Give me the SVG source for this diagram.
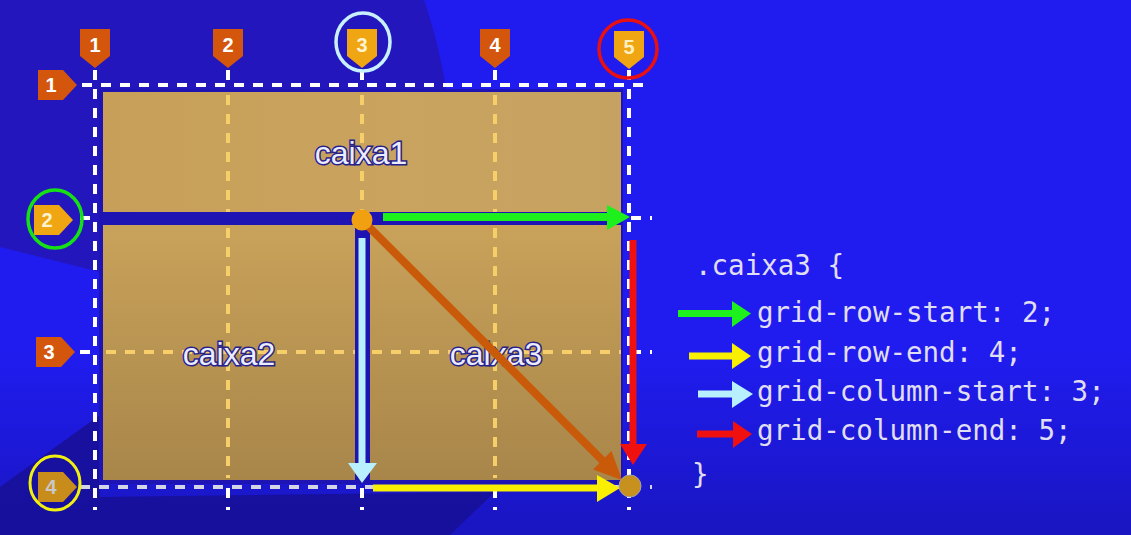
<svg xmlns="http://www.w3.org/2000/svg" width="1131" height="535" viewBox="0 0 1131 535">
<defs>
<linearGradient id="bottomShade" x1="0" y1="0" x2="0" y2="1">
<stop offset="0" stop-color="#14109a" stop-opacity="0"/>
<stop offset="1" stop-color="#14109a" stop-opacity="0.55"/>
</linearGradient>
<linearGradient id="tanLow" x1="0" y1="0" x2="0" y2="1">
<stop offset="0" stop-color="#c9a25a"/>
<stop offset="1" stop-color="#a8864a"/>
</linearGradient>
<linearGradient id="tanTop" x1="0" y1="0" x2="1" y2="0">
<stop offset="0" stop-color="#c79f58"/>
<stop offset="0.5" stop-color="#c9a35e"/>
<stop offset="1" stop-color="#c6a262"/>
</linearGradient>
</defs>
<style>
.gw{stroke:#ffffff;stroke-width:4;stroke-dasharray:10 9;fill:none}
.gg{stroke:#d4d4e4;stroke-width:4;stroke-dasharray:10 9;fill:none}
.gy{stroke:#f6cf6a;stroke-width:4;stroke-dasharray:10 9;fill:none}
.mo{fill:#d3560c}
.my{fill:#f0a512}
.mg{fill:#c88c1a}
.mt{font-family:"Liberation Sans",Arial,sans-serif;font-weight:bold;font-size:20px;fill:#ffffff;text-anchor:middle}
.lab{font-family:"Liberation Sans",Arial,sans-serif;font-size:32px;fill:#ececff;stroke:#27228a;stroke-width:3;paint-order:stroke;text-anchor:middle}
.code{font-family:"DejaVu Sans Mono","Liberation Mono",monospace;font-size:27.5px;fill:#e0def2}
</style>
<g id="background">
<rect x="0" y="0" width="1131" height="535" fill="#201cf0"/>
<path d="M0,0 H424 C448,70 462,160 445,260 L100,272 L0,247 Z" fill="#2316bc"/>
<path d="M0,487 L100,415 L100,497 L495,492 L450,535 L0,535 Z" fill="#1a10a0"/>
<rect x="0" y="350" width="1131" height="185" fill="url(#bottomShade)"/>
</g>
<g id="grid-lines">
<line class="gw" x1="82" y1="85" x2="652" y2="85"/>
<line class="gw" x1="80" y1="218" x2="652" y2="218"/>
<line class="gw" x1="80" y1="352" x2="652" y2="352"/>
<line class="gg" x1="80" y1="487" x2="652" y2="487"/>
<line class="gw" x1="95" y1="70" x2="95" y2="510"/>
<line class="gw" x1="228" y1="70" x2="228" y2="510"/>
<line class="gw" x1="362" y1="70" x2="362" y2="510"/>
<line class="gw" x1="495" y1="70" x2="495" y2="510"/>
<line class="gw" x1="629" y1="70" x2="629" y2="510"/>
</g>
<rect x="99" y="89" width="524" height="395" fill="#1e14b4"/>
<g id="caixa1">
<rect x="103" y="92" width="518" height="120" fill="url(#tanTop)"/>
<line class="gy" x1="228" y1="95" x2="228" y2="212"/>
<line class="gy" x1="362" y1="95" x2="362" y2="212"/>
<line class="gy" x1="495" y1="95" x2="495" y2="212"/>
<text class="lab" x="361" y="164">caixa1</text>
</g>
<g id="caixa2">
<rect x="103" y="225" width="252" height="255" fill="url(#tanLow)"/>
<line class="gy" x1="228" y1="228" x2="228" y2="478"/>
<line class="gy" x1="106" y1="352" x2="355" y2="352"/>
<text class="lab" x="229" y="365">caixa2</text>
</g>
<g id="caixa3">
<rect x="370" y="225" width="251" height="255" fill="url(#tanLow)"/>
<line class="gy" x1="495" y1="228" x2="495" y2="478"/>
<line class="gy" x1="372" y1="352" x2="621" y2="352"/>
<text class="lab" x="496" y="365">caixa3</text>
</g>
<g id="col-markers">
<g id="col1"><polygon class="mo" points="80,29 110,29 110,56 95,68 80,56"/><text class="mt" x="95" y="52">1</text></g>
<g id="col2"><polygon class="mo" points="213,29 243,29 243,56 228,68 213,56"/><text class="mt" x="228" y="52">2</text></g>
<g id="col3"><polygon class="my" points="347,29 377,29 377,56 362,68 347,56"/><text class="mt" x="362" y="52" style="fill:#fff4d0">3</text>
<ellipse cx="363" cy="42" rx="27" ry="29" fill="none" stroke="#c8f0ff" stroke-width="3.5"/></g>
<g id="col4"><polygon class="mo" points="480,29 510,29 510,56 495,68 480,56"/><text class="mt" x="495" y="52">4</text></g>
<g id="col5"><polygon class="my" points="614,31 644,31 644,57 629,69 614,57"/><text class="mt" x="629" y="54" style="fill:#fff0c0">5</text>
<ellipse cx="628" cy="49" rx="29" ry="29" fill="none" stroke="#e81010" stroke-width="3.5"/></g>
</g>
<g id="row-markers">
<g id="row1"><polygon class="mo" points="38,70 63,70 77,85 63,100 38,100"/><text class="mt" x="51" y="92">1</text></g>
<g id="row2"><polygon class="my" points="34,205 59,205 73,220 59,235 34,235"/><text class="mt" x="47" y="227" style="fill:#fff4d0">2</text>
<ellipse cx="55" cy="219" rx="27" ry="29" fill="none" stroke="#16e016" stroke-width="3.5"/></g>
<g id="row3"><polygon class="mo" points="36,337 61,337 75,352 61,367 36,367"/><text class="mt" x="49" y="359">3</text></g>
<g id="row4"><polygon class="mg" points="38,472 63,472 77,487 63,502 38,502"/><text class="mt" x="51" y="494" style="fill:#c8c8c8">4</text>
<ellipse cx="55" cy="483" rx="25" ry="27" fill="none" stroke="#f0f010" stroke-width="3"/></g>
</g>
<g id="connectors">
<line x1="383" y1="217" x2="610" y2="217" stroke="#1ef01e" stroke-width="8"/>
<polygon points="607,205 630,217 607,230" fill="#1ef01e"/>
<line x1="367" y1="225" x2="604" y2="462" stroke="#c85a0a" stroke-width="8"/>
<polygon points="611.4,451 622,480 593,469.4" fill="#c85a0a"/>
<line x1="362" y1="238" x2="362" y2="465" stroke="#1e14b4" stroke-width="12"/>
<line x1="362" y1="238" x2="362" y2="465" stroke="#b8f0ff" stroke-width="7"/>
<polygon points="348,463 377,463 362,483" fill="#b8f0ff"/>
<line x1="633" y1="240" x2="633" y2="446" stroke="#f01010" stroke-width="7"/>
<polygon points="620,444 647,444 633,465" fill="#f01010"/>
<line x1="373" y1="488" x2="600" y2="488" stroke="#f8f000" stroke-width="7"/>
<polygon points="597,475 620,488 597,502" fill="#f8f000"/>
<circle cx="362" cy="220" r="10.5" fill="#f0a010"/>
<circle cx="630" cy="486" r="11" fill="#c8901c" stroke="#a0a0b0" stroke-width="1"/>
<line x1="678" y1="313.5" x2="734" y2="313.5" stroke="#1ef01e" stroke-width="7"/>
<polygon points="732,301 751,313.5 732,327" fill="#1ef01e"/>
<line x1="689" y1="356" x2="734" y2="356" stroke="#f8f000" stroke-width="7"/>
<polygon points="732,343 751,356 732,369" fill="#f8f000"/>
<line x1="698" y1="394" x2="734" y2="394" stroke="#b8f0ff" stroke-width="7"/>
<polygon points="732,381 753,394 732,408" fill="#b8f0ff"/>
<line x1="697" y1="434" x2="735" y2="434" stroke="#f01010" stroke-width="7"/>
<polygon points="733,421 752,434 733,448" fill="#f01010"/>
</g>
<g id="code">
<text class="code" x="695" y="275">.caixa3 {</text>
<text class="code" x="757" y="322">grid-row-start: 2;</text>
<text class="code" x="757" y="362">grid-row-end: 4;</text>
<text class="code" x="757" y="401">grid-column-start: 3;</text>
<text class="code" x="757" y="440">grid-column-end: 5;</text>
<text class="code" x="692" y="484">}</text>
</g>
</svg>
